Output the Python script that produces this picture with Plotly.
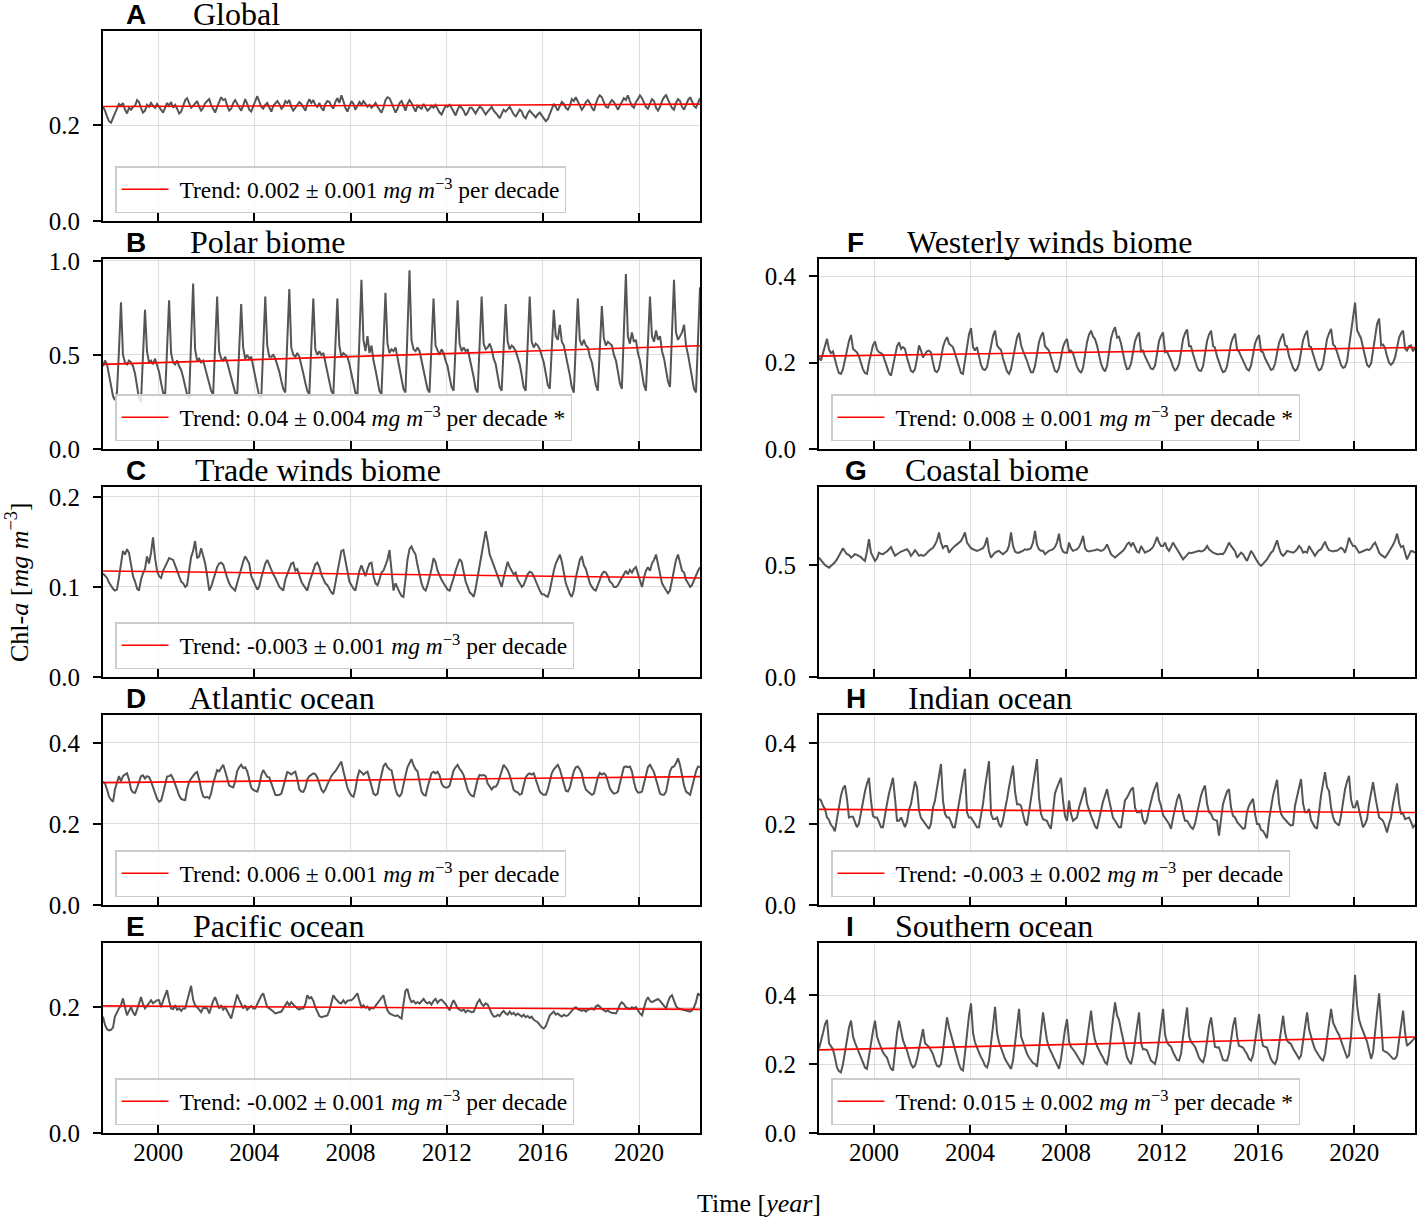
import pandas as pd
import plotly.graph_objects as go

# ---------------------------------------------------------------------------
# DATA: monthly Chl-a (mg m^-3), Sep 1997 ... Jul 2022, one row per year
# ---------------------------------------------------------------------------
FIRST_MONTH = "1997-09-01"
LAST_MONTH = "2022-07-01"
tick_years = [2000, 2004, 2008, 2012, 2016, 2020]

global_rows = [
    [0.238, 0.230, 0.218, 0.208],
    [0.205, 0.215, 0.228, 0.238, 0.244, 0.240, 0.246, 0.232, 0.224, 0.236, 0.232, 0.238],
    [0.240, 0.252, 0.248, 0.236, 0.226, 0.230, 0.242, 0.238, 0.246, 0.240, 0.236, 0.244],
    [0.238, 0.232, 0.226, 0.236, 0.246, 0.240, 0.248, 0.236, 0.242, 0.234, 0.224, 0.228],
    [0.240, 0.252, 0.256, 0.246, 0.236, 0.240, 0.244, 0.250, 0.238, 0.230, 0.236, 0.246],
    [0.250, 0.254, 0.242, 0.232, 0.226, 0.238, 0.250, 0.258, 0.252, 0.254, 0.240, 0.230],
    [0.234, 0.246, 0.252, 0.244, 0.238, 0.230, 0.240, 0.254, 0.244, 0.232, 0.228, 0.240],
    [0.250, 0.260, 0.248, 0.238, 0.234, 0.242, 0.246, 0.236, 0.228, 0.240, 0.246, 0.250],
    [0.244, 0.234, 0.238, 0.250, 0.246, 0.252, 0.238, 0.230, 0.236, 0.242, 0.248, 0.244],
    [0.238, 0.230, 0.244, 0.254, 0.246, 0.252, 0.242, 0.238, 0.246, 0.236, 0.230, 0.244],
    [0.250, 0.248, 0.240, 0.234, 0.248, 0.256, 0.246, 0.262, 0.250, 0.236, 0.228, 0.240],
    [0.250, 0.244, 0.232, 0.240, 0.248, 0.242, 0.250, 0.244, 0.238, 0.242, 0.236, 0.240],
    [0.246, 0.238, 0.232, 0.226, 0.236, 0.252, 0.258, 0.256, 0.246, 0.236, 0.226, 0.234],
    [0.246, 0.250, 0.240, 0.230, 0.244, 0.252, 0.246, 0.238, 0.228, 0.240, 0.236, 0.234],
    [0.244, 0.238, 0.230, 0.234, 0.240, 0.236, 0.242, 0.234, 0.226, 0.222, 0.232, 0.240],
    [0.238, 0.242, 0.236, 0.228, 0.220, 0.232, 0.240, 0.236, 0.230, 0.220, 0.226, 0.236],
    [0.236, 0.230, 0.224, 0.232, 0.238, 0.236, 0.230, 0.222, 0.228, 0.234, 0.238, 0.230],
    [0.226, 0.220, 0.214, 0.222, 0.232, 0.228, 0.234, 0.238, 0.230, 0.222, 0.218, 0.226],
    [0.232, 0.228, 0.218, 0.214, 0.224, 0.230, 0.226, 0.220, 0.216, 0.222, 0.226, 0.220],
    [0.214, 0.208, 0.212, 0.224, 0.236, 0.244, 0.238, 0.230, 0.240, 0.248, 0.244, 0.236],
    [0.232, 0.240, 0.254, 0.250, 0.258, 0.248, 0.240, 0.232, 0.238, 0.248, 0.252, 0.246],
    [0.236, 0.230, 0.244, 0.256, 0.262, 0.258, 0.248, 0.238, 0.236, 0.246, 0.252, 0.248],
    [0.240, 0.232, 0.240, 0.250, 0.256, 0.252, 0.262, 0.250, 0.240, 0.236, 0.248, 0.254],
    [0.262, 0.256, 0.246, 0.238, 0.234, 0.244, 0.254, 0.250, 0.236, 0.230, 0.238, 0.250],
    [0.258, 0.262, 0.252, 0.244, 0.236, 0.232, 0.246, 0.254, 0.250, 0.238, 0.232, 0.244],
    [0.252, 0.258, 0.248, 0.240, 0.236, 0.246, 0.256],
]

polar_rows = [
    [0.44, 0.47, 0.45, 0.40],
    [0.33, 0.28, 0.26, 0.30, 0.52, 0.78, 0.50, 0.46, 0.45, 0.47, 0.46, 0.44],
    [0.40, 0.33, 0.27, 0.25, 0.48, 0.74, 0.52, 0.46, 0.47, 0.45, 0.48, 0.44],
    [0.41, 0.35, 0.30, 0.28, 0.50, 0.79, 0.51, 0.46, 0.45, 0.47, 0.44, 0.42],
    [0.38, 0.33, 0.29, 0.27, 0.55, 0.88, 0.53, 0.47, 0.48, 0.46, 0.47, 0.43],
    [0.40, 0.35, 0.31, 0.29, 0.52, 0.81, 0.52, 0.48, 0.47, 0.49, 0.46, 0.42],
    [0.39, 0.34, 0.30, 0.28, 0.50, 0.77, 0.54, 0.48, 0.50, 0.48, 0.49, 0.44],
    [0.38, 0.32, 0.28, 0.27, 0.52, 0.81, 0.55, 0.49, 0.49, 0.50, 0.48, 0.45],
    [0.41, 0.36, 0.32, 0.30, 0.55, 0.85, 0.54, 0.50, 0.49, 0.51, 0.49, 0.45],
    [0.40, 0.35, 0.31, 0.29, 0.52, 0.80, 0.53, 0.50, 0.52, 0.50, 0.51, 0.46],
    [0.41, 0.36, 0.31, 0.29, 0.53, 0.80, 0.55, 0.49, 0.51, 0.50, 0.49, 0.45],
    [0.40, 0.35, 0.30, 0.28, 0.57, 0.90, 0.58, 0.52, 0.60, 0.51, 0.55, 0.47],
    [0.42, 0.36, 0.31, 0.29, 0.55, 0.83, 0.56, 0.51, 0.53, 0.52, 0.54, 0.48],
    [0.43, 0.37, 0.32, 0.30, 0.60, 0.95, 0.58, 0.53, 0.52, 0.54, 0.52, 0.47],
    [0.43, 0.37, 0.32, 0.30, 0.53, 0.80, 0.55, 0.52, 0.50, 0.53, 0.51, 0.47],
    [0.44, 0.38, 0.33, 0.31, 0.54, 0.79, 0.56, 0.52, 0.54, 0.52, 0.53, 0.48],
    [0.44, 0.38, 0.32, 0.30, 0.55, 0.81, 0.56, 0.53, 0.54, 0.56, 0.53, 0.48],
    [0.45, 0.39, 0.33, 0.31, 0.53, 0.77, 0.57, 0.53, 0.55, 0.54, 0.52, 0.48],
    [0.45, 0.39, 0.33, 0.31, 0.55, 0.81, 0.57, 0.54, 0.56, 0.55, 0.53, 0.49],
    [0.46, 0.40, 0.34, 0.32, 0.52, 0.74, 0.60, 0.58, 0.66, 0.57, 0.55, 0.50],
    [0.46, 0.39, 0.33, 0.30, 0.55, 0.80, 0.58, 0.55, 0.58, 0.55, 0.54, 0.49],
    [0.46, 0.40, 0.34, 0.31, 0.53, 0.76, 0.59, 0.55, 0.57, 0.56, 0.55, 0.50],
    [0.47, 0.41, 0.35, 0.32, 0.60, 0.93, 0.60, 0.56, 0.62, 0.57, 0.58, 0.51],
    [0.47, 0.40, 0.34, 0.31, 0.56, 0.81, 0.60, 0.57, 0.63, 0.58, 0.60, 0.52],
    [0.48, 0.42, 0.36, 0.33, 0.60, 0.90, 0.62, 0.58, 0.60, 0.62, 0.66, 0.55],
    [0.50, 0.44, 0.38, 0.32, 0.30, 0.55, 0.86],
]

trade_rows = [
    [0.115, 0.113, 0.110, 0.105],
    [0.101, 0.098, 0.096, 0.097, 0.110, 0.128, 0.140, 0.136, 0.142, 0.138, 0.126, 0.112],
    [0.106, 0.098, 0.096, 0.108, 0.115, 0.120, 0.134, 0.126, 0.138, 0.155, 0.132, 0.118],
    [0.112, 0.110, 0.118, 0.122, 0.127, 0.132, 0.131, 0.130, 0.124, 0.118, 0.112, 0.106],
    [0.104, 0.100, 0.102, 0.118, 0.133, 0.140, 0.151, 0.132, 0.134, 0.143, 0.134, 0.126],
    [0.112, 0.096, 0.100, 0.108, 0.114, 0.122, 0.126, 0.127, 0.125, 0.116, 0.110, 0.104],
    [0.100, 0.098, 0.096, 0.104, 0.112, 0.122, 0.128, 0.134, 0.130, 0.126, 0.112, 0.106],
    [0.102, 0.097, 0.100, 0.110, 0.118, 0.126, 0.130, 0.124, 0.120, 0.114, 0.110, 0.104],
    [0.100, 0.098, 0.096, 0.108, 0.114, 0.120, 0.126, 0.127, 0.118, 0.120, 0.112, 0.106],
    [0.102, 0.098, 0.096, 0.105, 0.112, 0.120, 0.125, 0.127, 0.122, 0.114, 0.108, 0.104],
    [0.102, 0.098, 0.094, 0.092, 0.104, 0.118, 0.130, 0.140, 0.141, 0.128, 0.116, 0.106],
    [0.102, 0.098, 0.096, 0.106, 0.118, 0.124, 0.118, 0.112, 0.120, 0.126, 0.127, 0.112],
    [0.104, 0.102, 0.108, 0.116, 0.118, 0.124, 0.130, 0.141, 0.120, 0.096, 0.104, 0.098],
    [0.094, 0.090, 0.089, 0.108, 0.130, 0.142, 0.145, 0.140, 0.136, 0.124, 0.112, 0.104],
    [0.098, 0.096, 0.102, 0.110, 0.120, 0.132, 0.128, 0.118, 0.112, 0.108, 0.104, 0.100],
    [0.097, 0.096, 0.102, 0.110, 0.118, 0.126, 0.131, 0.128, 0.116, 0.106, 0.100, 0.094],
    [0.092, 0.089, 0.098, 0.112, 0.124, 0.136, 0.150, 0.162, 0.150, 0.136, 0.130, 0.124],
    [0.118, 0.110, 0.104, 0.100, 0.110, 0.120, 0.128, 0.122, 0.118, 0.114, 0.116, 0.108],
    [0.104, 0.100, 0.102, 0.108, 0.114, 0.117, 0.116, 0.112, 0.106, 0.100, 0.096, 0.092],
    [0.092, 0.090, 0.089, 0.096, 0.108, 0.118, 0.126, 0.132, 0.136, 0.128, 0.116, 0.104],
    [0.098, 0.092, 0.089, 0.096, 0.110, 0.120, 0.130, 0.134, 0.124, 0.120, 0.110, 0.104],
    [0.100, 0.097, 0.096, 0.102, 0.108, 0.114, 0.117, 0.116, 0.112, 0.106, 0.104, 0.100],
    [0.100, 0.102, 0.106, 0.110, 0.115, 0.118, 0.114, 0.119, 0.116, 0.120, 0.122, 0.114],
    [0.106, 0.100, 0.110, 0.118, 0.122, 0.118, 0.126, 0.130, 0.136, 0.124, 0.112, 0.104],
    [0.100, 0.096, 0.093, 0.096, 0.108, 0.120, 0.130, 0.136, 0.128, 0.118, 0.116, 0.108],
    [0.104, 0.100, 0.102, 0.108, 0.114, 0.118, 0.122],
]

atlantic_rows = [
    [0.305, 0.300, 0.285, 0.268],
    [0.260, 0.255, 0.285, 0.305, 0.318, 0.305, 0.318, 0.322, 0.325, 0.310, 0.285, 0.278],
    [0.277, 0.290, 0.305, 0.318, 0.320, 0.312, 0.318, 0.316, 0.305, 0.290, 0.275, 0.262],
    [0.255, 0.258, 0.275, 0.300, 0.317, 0.318, 0.321, 0.312, 0.300, 0.285, 0.270, 0.262],
    [0.260, 0.259, 0.285, 0.304, 0.312, 0.320, 0.325, 0.328, 0.310, 0.285, 0.268, 0.265],
    [0.267, 0.263, 0.275, 0.300, 0.318, 0.333, 0.330, 0.340, 0.346, 0.330, 0.310, 0.295],
    [0.292, 0.290, 0.305, 0.330, 0.340, 0.346, 0.338, 0.340, 0.330, 0.310, 0.290, 0.284],
    [0.282, 0.280, 0.295, 0.320, 0.333, 0.325, 0.316, 0.315, 0.300, 0.285, 0.272, 0.271],
    [0.272, 0.275, 0.290, 0.310, 0.328, 0.326, 0.322, 0.326, 0.329, 0.310, 0.285, 0.280],
    [0.279, 0.290, 0.310, 0.318, 0.322, 0.325, 0.323, 0.315, 0.300, 0.285, 0.278, 0.285],
    [0.298, 0.310, 0.318, 0.325, 0.330, 0.338, 0.345, 0.354, 0.330, 0.310, 0.290, 0.278],
    [0.270, 0.267, 0.285, 0.315, 0.332, 0.328, 0.322, 0.326, 0.329, 0.312, 0.290, 0.275],
    [0.271, 0.275, 0.300, 0.325, 0.342, 0.350, 0.340, 0.335, 0.332, 0.310, 0.285, 0.272],
    [0.268, 0.275, 0.300, 0.320, 0.340, 0.352, 0.360, 0.345, 0.335, 0.330, 0.305, 0.280],
    [0.272, 0.270, 0.290, 0.310, 0.325, 0.329, 0.325, 0.329, 0.320, 0.300, 0.292, 0.290],
    [0.290, 0.295, 0.315, 0.332, 0.340, 0.346, 0.336, 0.330, 0.320, 0.300, 0.284, 0.275],
    [0.270, 0.268, 0.290, 0.310, 0.321, 0.320, 0.321, 0.318, 0.300, 0.292, 0.285, 0.292],
    [0.292, 0.300, 0.315, 0.335, 0.346, 0.340, 0.333, 0.320, 0.300, 0.284, 0.280, 0.278],
    [0.272, 0.275, 0.295, 0.315, 0.322, 0.325, 0.322, 0.325, 0.310, 0.295, 0.280, 0.275],
    [0.272, 0.272, 0.285, 0.305, 0.325, 0.335, 0.340, 0.346, 0.335, 0.318, 0.295, 0.282],
    [0.280, 0.290, 0.310, 0.330, 0.340, 0.342, 0.335, 0.325, 0.300, 0.285, 0.280, 0.275],
    [0.272, 0.275, 0.295, 0.315, 0.326, 0.322, 0.325, 0.320, 0.305, 0.288, 0.280, 0.275],
    [0.276, 0.280, 0.300, 0.325, 0.340, 0.342, 0.340, 0.342, 0.330, 0.305, 0.285, 0.278],
    [0.278, 0.280, 0.300, 0.325, 0.340, 0.346, 0.335, 0.328, 0.310, 0.290, 0.275, 0.272],
    [0.272, 0.280, 0.305, 0.330, 0.340, 0.342, 0.350, 0.362, 0.345, 0.320, 0.295, 0.280],
    [0.275, 0.272, 0.290, 0.315, 0.330, 0.342, 0.340],
]

pacific_rows = [
    [0.185, 0.172, 0.165, 0.163],
    [0.164, 0.168, 0.185, 0.193, 0.198, 0.203, 0.214, 0.200, 0.187, 0.194, 0.200, 0.192],
    [0.187, 0.196, 0.206, 0.216, 0.205, 0.198, 0.202, 0.206, 0.211, 0.206, 0.208, 0.211],
    [0.211, 0.200, 0.210, 0.220, 0.227, 0.210, 0.198, 0.197, 0.203, 0.196, 0.198, 0.194],
    [0.198, 0.198, 0.210, 0.225, 0.234, 0.212, 0.203, 0.200, 0.196, 0.192, 0.199, 0.198],
    [0.198, 0.190, 0.200, 0.210, 0.216, 0.206, 0.198, 0.203, 0.196, 0.200, 0.195, 0.188],
    [0.182, 0.195, 0.210, 0.220, 0.212, 0.204, 0.198, 0.203, 0.196, 0.199, 0.202, 0.198],
    [0.198, 0.205, 0.212, 0.218, 0.222, 0.210, 0.200, 0.198, 0.196, 0.193, 0.190, 0.191],
    [0.193, 0.193, 0.198, 0.204, 0.208, 0.203, 0.208, 0.204, 0.200, 0.198, 0.196, 0.198],
    [0.198, 0.205, 0.219, 0.214, 0.216, 0.210, 0.200, 0.192, 0.186, 0.184, 0.185, 0.186],
    [0.187, 0.195, 0.205, 0.219, 0.214, 0.211, 0.207, 0.206, 0.211, 0.206, 0.210, 0.211],
    [0.211, 0.214, 0.218, 0.222, 0.210, 0.200, 0.203, 0.199, 0.201, 0.196, 0.199, 0.198],
    [0.202, 0.206, 0.211, 0.215, 0.219, 0.205, 0.195, 0.190, 0.188, 0.187, 0.186, 0.187],
    [0.184, 0.182, 0.205, 0.226, 0.229, 0.215, 0.208, 0.210, 0.206, 0.208, 0.206, 0.210],
    [0.213, 0.208, 0.206, 0.208, 0.204, 0.210, 0.213, 0.207, 0.211, 0.212, 0.209, 0.205],
    [0.200, 0.195, 0.204, 0.211, 0.205, 0.198, 0.196, 0.194, 0.196, 0.192, 0.195, 0.194],
    [0.192, 0.193, 0.200, 0.208, 0.212, 0.205, 0.202, 0.206, 0.204, 0.196, 0.190, 0.185],
    [0.185, 0.188, 0.186, 0.191, 0.194, 0.190, 0.188, 0.193, 0.189, 0.191, 0.187, 0.190],
    [0.188, 0.185, 0.188, 0.184, 0.186, 0.183, 0.185, 0.180, 0.178, 0.176, 0.172, 0.168],
    [0.166, 0.170, 0.178, 0.187, 0.190, 0.193, 0.188, 0.190, 0.187, 0.185, 0.188, 0.186],
    [0.187, 0.190, 0.194, 0.198, 0.200, 0.197, 0.196, 0.194, 0.196, 0.193, 0.196, 0.197],
    [0.198, 0.196, 0.201, 0.203, 0.201, 0.197, 0.195, 0.193, 0.195, 0.192, 0.191, 0.190],
    [0.190, 0.196, 0.204, 0.208, 0.205, 0.200, 0.198, 0.197, 0.200, 0.198, 0.200, 0.195],
    [0.190, 0.187, 0.198, 0.210, 0.216, 0.210, 0.208, 0.210, 0.211, 0.213, 0.210, 0.206],
    [0.201, 0.198, 0.208, 0.216, 0.219, 0.210, 0.202, 0.198, 0.197, 0.196, 0.195, 0.195],
    [0.194, 0.193, 0.195, 0.200, 0.208, 0.222, 0.218],
]

westerly_rows = [
    [0.212, 0.205, 0.222, 0.240],
    [0.255, 0.230, 0.222, 0.226, 0.205, 0.190, 0.176, 0.174, 0.185, 0.205, 0.232, 0.250],
    [0.264, 0.232, 0.228, 0.224, 0.215, 0.197, 0.185, 0.176, 0.174, 0.200, 0.222, 0.240],
    [0.249, 0.230, 0.224, 0.222, 0.218, 0.205, 0.188, 0.176, 0.170, 0.195, 0.222, 0.238],
    [0.247, 0.232, 0.236, 0.232, 0.212, 0.195, 0.181, 0.178, 0.185, 0.210, 0.240, 0.228],
    [0.212, 0.220, 0.226, 0.228, 0.224, 0.200, 0.181, 0.178, 0.186, 0.210, 0.236, 0.250],
    [0.259, 0.244, 0.240, 0.236, 0.222, 0.205, 0.190, 0.176, 0.174, 0.205, 0.245, 0.265],
    [0.280, 0.236, 0.228, 0.236, 0.215, 0.195, 0.185, 0.183, 0.190, 0.215, 0.245, 0.262],
    [0.274, 0.240, 0.234, 0.230, 0.210, 0.195, 0.180, 0.174, 0.185, 0.210, 0.240, 0.258],
    [0.269, 0.240, 0.228, 0.218, 0.205, 0.190, 0.178, 0.178, 0.192, 0.220, 0.248, 0.262],
    [0.270, 0.238, 0.234, 0.228, 0.212, 0.195, 0.181, 0.178, 0.188, 0.212, 0.236, 0.248],
    [0.255, 0.226, 0.228, 0.222, 0.205, 0.190, 0.182, 0.176, 0.188, 0.220, 0.248, 0.265],
    [0.274, 0.260, 0.255, 0.240, 0.215, 0.198, 0.186, 0.180, 0.192, 0.225, 0.256, 0.272],
    [0.282, 0.258, 0.260, 0.245, 0.220, 0.200, 0.185, 0.186, 0.198, 0.225, 0.250, 0.262],
    [0.270, 0.226, 0.228, 0.215, 0.205, 0.195, 0.186, 0.185, 0.193, 0.220, 0.250, 0.262],
    [0.270, 0.224, 0.226, 0.215, 0.205, 0.190, 0.182, 0.186, 0.198, 0.225, 0.255, 0.268],
    [0.277, 0.238, 0.238, 0.220, 0.205, 0.190, 0.182, 0.181, 0.192, 0.220, 0.250, 0.265],
    [0.274, 0.238, 0.235, 0.215, 0.200, 0.188, 0.178, 0.180, 0.192, 0.220, 0.245, 0.258],
    [0.267, 0.230, 0.226, 0.215, 0.205, 0.192, 0.185, 0.182, 0.193, 0.218, 0.244, 0.256],
    [0.264, 0.226, 0.224, 0.210, 0.200, 0.190, 0.183, 0.185, 0.198, 0.222, 0.246, 0.258],
    [0.267, 0.240, 0.238, 0.215, 0.200, 0.188, 0.181, 0.185, 0.198, 0.226, 0.252, 0.265],
    [0.274, 0.238, 0.236, 0.220, 0.205, 0.190, 0.182, 0.185, 0.198, 0.226, 0.255, 0.268],
    [0.278, 0.242, 0.238, 0.225, 0.210, 0.195, 0.188, 0.190, 0.203, 0.235, 0.270, 0.300],
    [0.339, 0.275, 0.264, 0.256, 0.235, 0.210, 0.195, 0.190, 0.198, 0.228, 0.265, 0.290],
    [0.302, 0.240, 0.242, 0.234, 0.215, 0.200, 0.195, 0.200, 0.212, 0.238, 0.258, 0.268],
    [0.274, 0.232, 0.228, 0.238, 0.240, 0.226, 0.236],
]

coastal_rows = [
    [0.533, 0.520, 0.510, 0.500],
    [0.492, 0.488, 0.495, 0.503, 0.512, 0.525, 0.540, 0.560, 0.575, 0.560, 0.548, 0.545],
    [0.533, 0.540, 0.548, 0.545, 0.541, 0.535, 0.525, 0.518, 0.560, 0.615, 0.555, 0.535],
    [0.518, 0.530, 0.555, 0.550, 0.548, 0.555, 0.560, 0.570, 0.580, 0.560, 0.541, 0.548],
    [0.555, 0.560, 0.563, 0.566, 0.570, 0.560, 0.541, 0.552, 0.566, 0.555, 0.541, 0.545],
    [0.541, 0.545, 0.555, 0.563, 0.570, 0.577, 0.590, 0.610, 0.645, 0.600, 0.575, 0.585],
    [0.585, 0.555, 0.566, 0.577, 0.585, 0.592, 0.600, 0.607, 0.625, 0.645, 0.600, 0.585],
    [0.575, 0.570, 0.566, 0.563, 0.566, 0.570, 0.575, 0.590, 0.622, 0.560, 0.533, 0.545],
    [0.555, 0.560, 0.563, 0.555, 0.548, 0.556, 0.563, 0.585, 0.645, 0.585, 0.560, 0.555],
    [0.555, 0.560, 0.563, 0.570, 0.568, 0.570, 0.575, 0.600, 0.652, 0.590, 0.570, 0.563],
    [0.563, 0.548, 0.556, 0.563, 0.566, 0.570, 0.580, 0.600, 0.640, 0.580, 0.560, 0.555],
    [0.555, 0.600, 0.575, 0.563, 0.566, 0.570, 0.580, 0.600, 0.630, 0.575, 0.563, 0.560],
    [0.563, 0.563, 0.566, 0.570, 0.568, 0.563, 0.566, 0.575, 0.592, 0.570, 0.548, 0.540],
    [0.533, 0.541, 0.548, 0.555, 0.563, 0.575, 0.592, 0.600, 0.585, 0.600, 0.575, 0.560],
    [0.555, 0.585, 0.570, 0.555, 0.560, 0.563, 0.570, 0.580, 0.600, 0.625, 0.600, 0.585],
    [0.585, 0.600, 0.575, 0.563, 0.580, 0.600, 0.585, 0.570, 0.555, 0.540, 0.525, 0.535],
    [0.545, 0.555, 0.552, 0.555, 0.556, 0.560, 0.563, 0.560, 0.563, 0.570, 0.585, 0.570],
    [0.560, 0.555, 0.552, 0.548, 0.548, 0.550, 0.548, 0.560, 0.580, 0.600, 0.585, 0.570],
    [0.560, 0.533, 0.545, 0.555, 0.548, 0.535, 0.518, 0.540, 0.563, 0.550, 0.530, 0.518],
    [0.505, 0.496, 0.505, 0.515, 0.525, 0.540, 0.555, 0.563, 0.585, 0.610, 0.575, 0.550],
    [0.541, 0.550, 0.563, 0.560, 0.558, 0.555, 0.560, 0.570, 0.585, 0.575, 0.555, 0.560],
    [0.555, 0.585, 0.570, 0.555, 0.541, 0.555, 0.565, 0.570, 0.590, 0.604, 0.580, 0.566],
    [0.563, 0.560, 0.563, 0.563, 0.570, 0.577, 0.570, 0.555, 0.585, 0.622, 0.600, 0.585],
    [0.585, 0.570, 0.555, 0.558, 0.563, 0.566, 0.570, 0.566, 0.575, 0.590, 0.600, 0.580],
    [0.555, 0.545, 0.540, 0.533, 0.545, 0.560, 0.570, 0.590, 0.610, 0.640, 0.600, 0.580],
    [0.585, 0.555, 0.525, 0.545, 0.563, 0.560, 0.555],
]

indian_rows = [
    [0.262, 0.258, 0.245, 0.237],
    [0.216, 0.210, 0.198, 0.192, 0.182, 0.215, 0.249, 0.270, 0.288, 0.295, 0.262, 0.216],
    [0.218, 0.218, 0.205, 0.192, 0.200, 0.230, 0.249, 0.280, 0.300, 0.314, 0.258, 0.220],
    [0.216, 0.216, 0.205, 0.192, 0.192, 0.225, 0.249, 0.275, 0.295, 0.314, 0.262, 0.208],
    [0.208, 0.216, 0.205, 0.192, 0.205, 0.235, 0.249, 0.275, 0.305, 0.290, 0.233, 0.215],
    [0.208, 0.200, 0.192, 0.188, 0.200, 0.240, 0.257, 0.285, 0.315, 0.348, 0.257, 0.225],
    [0.216, 0.216, 0.205, 0.192, 0.192, 0.225, 0.249, 0.280, 0.310, 0.336, 0.229, 0.216],
    [0.216, 0.208, 0.200, 0.192, 0.192, 0.220, 0.249, 0.290, 0.325, 0.355, 0.225, 0.212],
    [0.212, 0.216, 0.200, 0.192, 0.210, 0.233, 0.260, 0.290, 0.320, 0.344, 0.280, 0.249],
    [0.249, 0.245, 0.225, 0.204, 0.196, 0.230, 0.257, 0.290, 0.330, 0.360, 0.265, 0.225],
    [0.212, 0.210, 0.208, 0.196, 0.188, 0.230, 0.275, 0.290, 0.305, 0.314, 0.258, 0.220],
    [0.208, 0.258, 0.225, 0.208, 0.212, 0.216, 0.240, 0.258, 0.275, 0.290, 0.250, 0.233],
    [0.220, 0.208, 0.195, 0.188, 0.210, 0.241, 0.255, 0.270, 0.286, 0.260, 0.233, 0.215],
    [0.208, 0.200, 0.192, 0.192, 0.220, 0.258, 0.265, 0.275, 0.285, 0.290, 0.240, 0.229],
    [0.229, 0.233, 0.210, 0.200, 0.210, 0.235, 0.258, 0.275, 0.290, 0.303, 0.260, 0.245],
    [0.222, 0.216, 0.208, 0.200, 0.188, 0.215, 0.241, 0.260, 0.274, 0.255, 0.225, 0.208],
    [0.208, 0.200, 0.192, 0.188, 0.200, 0.225, 0.249, 0.270, 0.285, 0.295, 0.250, 0.229],
    [0.225, 0.212, 0.210, 0.208, 0.171, 0.215, 0.249, 0.265, 0.280, 0.286, 0.240, 0.220],
    [0.216, 0.205, 0.200, 0.192, 0.188, 0.190, 0.229, 0.245, 0.255, 0.262, 0.225, 0.200],
    [0.200, 0.185, 0.183, 0.175, 0.165, 0.210, 0.245, 0.270, 0.290, 0.309, 0.250, 0.225],
    [0.216, 0.210, 0.205, 0.200, 0.196, 0.198, 0.245, 0.270, 0.295, 0.311, 0.250, 0.229],
    [0.229, 0.237, 0.210, 0.200, 0.192, 0.188, 0.230, 0.270, 0.300, 0.328, 0.290, 0.282],
    [0.240, 0.216, 0.205, 0.200, 0.196, 0.220, 0.258, 0.285, 0.305, 0.319, 0.260, 0.241],
    [0.241, 0.258, 0.235, 0.212, 0.192, 0.200, 0.212, 0.250, 0.280, 0.303, 0.270, 0.240],
    [0.216, 0.212, 0.208, 0.195, 0.179, 0.200, 0.216, 0.250, 0.280, 0.300, 0.250, 0.225],
    [0.225, 0.212, 0.214, 0.216, 0.205, 0.192, 0.198],
]

southern_rows = [
    [0.245, 0.265, 0.290, 0.315],
    [0.328, 0.260, 0.250, 0.243, 0.220, 0.190, 0.180, 0.176, 0.200, 0.239, 0.275, 0.305],
    [0.326, 0.280, 0.263, 0.245, 0.234, 0.219, 0.205, 0.190, 0.186, 0.225, 0.258, 0.295],
    [0.326, 0.280, 0.263, 0.245, 0.234, 0.225, 0.219, 0.200, 0.186, 0.181, 0.240, 0.290],
    [0.326, 0.290, 0.270, 0.253, 0.240, 0.219, 0.200, 0.190, 0.195, 0.215, 0.245, 0.280],
    [0.301, 0.260, 0.255, 0.250, 0.240, 0.229, 0.210, 0.195, 0.192, 0.200, 0.240, 0.290],
    [0.335, 0.306, 0.285, 0.268, 0.240, 0.219, 0.200, 0.185, 0.181, 0.230, 0.290, 0.340],
    [0.376, 0.290, 0.263, 0.245, 0.234, 0.220, 0.210, 0.195, 0.190, 0.210, 0.255, 0.310],
    [0.366, 0.290, 0.263, 0.245, 0.229, 0.215, 0.205, 0.195, 0.186, 0.210, 0.260, 0.310],
    [0.360, 0.280, 0.263, 0.245, 0.230, 0.219, 0.210, 0.203, 0.200, 0.192, 0.240, 0.300],
    [0.350, 0.306, 0.270, 0.248, 0.235, 0.222, 0.210, 0.195, 0.186, 0.215, 0.260, 0.300],
    [0.330, 0.265, 0.250, 0.243, 0.235, 0.225, 0.214, 0.205, 0.200, 0.225, 0.270, 0.315],
    [0.355, 0.300, 0.270, 0.253, 0.240, 0.228, 0.219, 0.205, 0.200, 0.230, 0.285, 0.340],
    [0.379, 0.340, 0.329, 0.300, 0.270, 0.240, 0.219, 0.208, 0.200, 0.225, 0.270, 0.315],
    [0.350, 0.260, 0.243, 0.243, 0.240, 0.225, 0.210, 0.205, 0.200, 0.225, 0.275, 0.320],
    [0.360, 0.285, 0.263, 0.255, 0.250, 0.235, 0.222, 0.212, 0.210, 0.230, 0.280, 0.330],
    [0.364, 0.280, 0.265, 0.258, 0.250, 0.235, 0.219, 0.210, 0.205, 0.225, 0.270, 0.310],
    [0.335, 0.280, 0.250, 0.248, 0.248, 0.230, 0.212, 0.210, 0.210, 0.230, 0.270, 0.310],
    [0.335, 0.280, 0.253, 0.250, 0.248, 0.238, 0.229, 0.215, 0.210, 0.225, 0.265, 0.305],
    [0.345, 0.280, 0.253, 0.250, 0.248, 0.230, 0.214, 0.205, 0.200, 0.215, 0.260, 0.305],
    [0.340, 0.290, 0.268, 0.262, 0.258, 0.245, 0.234, 0.222, 0.215, 0.225, 0.265, 0.310],
    [0.350, 0.300, 0.277, 0.260, 0.243, 0.232, 0.224, 0.215, 0.210, 0.230, 0.275, 0.320],
    [0.360, 0.320, 0.306, 0.295, 0.285, 0.270, 0.250, 0.235, 0.219, 0.225, 0.280, 0.370],
    [0.459, 0.370, 0.330, 0.310, 0.295, 0.280, 0.265, 0.240, 0.215, 0.235, 0.285, 0.350],
    [0.405, 0.300, 0.240, 0.236, 0.234, 0.228, 0.220, 0.215, 0.215, 0.225, 0.270, 0.320],
    [0.355, 0.290, 0.253, 0.258, 0.263, 0.270, 0.277],
]

# linear trend (value at first month, value at last month)
trend_global = [0.2385, 0.2435]
trend_polar = [0.450, 0.549]
trend_trade = [0.1177, 0.1100]
trend_atlantic = [0.302, 0.317]
trend_pacific = [0.2020, 0.1965]
trend_westerly = [0.2150, 0.2350]
trend_indian = [0.2360, 0.2285]
trend_southern = [0.2410, 0.2785]

UNIT = "<i>mg m</i><sup>\u22123</sup>"
GAP = "\u00a0"
label_global = f"{GAP}Trend: 0.002 \u00b1 0.001 {UNIT} per decade"
label_polar = f"{GAP}Trend: 0.04 \u00b1 0.004 {UNIT} per decade *"
label_trade = f"{GAP}Trend: -0.003 \u00b1 0.001 {UNIT} per decade"
label_atlantic = f"{GAP}Trend: 0.006 \u00b1 0.001 {UNIT} per decade"
label_pacific = f"{GAP}Trend: -0.002 \u00b1 0.001 {UNIT} per decade"
label_westerly = f"{GAP}Trend: 0.008 \u00b1 0.001 {UNIT} per decade *"
label_indian = f"{GAP}Trend: -0.003 \u00b1 0.002 {UNIT} per decade"
label_southern = f"{GAP}Trend: 0.015 \u00b1 0.002 {UNIT} per decade *"

# ---------------------------------------------------------------------------
W, H = 1417, 1220
SERIF = "Liberation Serif, Times New Roman, serif"
SANS = "Liberation Sans, Arial, sans-serif"
COLS = [(103, 700), (819, 1415)]
ROWS = [(31, 221), (259, 449), (487, 677), (715, 905), (943, 1133)]

dates = pd.date_range(FIRST_MONTH, LAST_MONTH, freq="MS") + pd.Timedelta(days=14)
x_ticks = [f"{y}-01-01" for y in tick_years]
x_ticktext = [str(y) for y in tick_years]


def flat(rows):
    out = []
    for r in rows:
        out.extend(r)
    return out


panels = [
    dict(letter="A", title="Global", col=0, row=0, rows=global_rows, trend=trend_global,
         label=label_global, yr=[0, 0.396], yt=[0.0, 0.2], lx=136, tx=191),
    dict(letter="B", title="Polar biome", col=0, row=1, rows=polar_rows, trend=trend_polar,
         label=label_polar, yr=[0, 1.01], yt=[0.0, 0.5, 1.0], lx=136, tx=188),
    dict(letter="C", title="Trade winds biome", col=0, row=2, rows=trade_rows, trend=trend_trade,
         label=label_trade, yr=[0, 0.211], yt=[0.0, 0.1, 0.2], lx=136, tx=193),
    dict(letter="D", title="Atlantic ocean", col=0, row=3, rows=atlantic_rows, trend=trend_atlantic,
         label=label_atlantic, yr=[0, 0.469], yt=[0.0, 0.2, 0.4], lx=136, tx=187),
    dict(letter="E", title="Pacific ocean", col=0, row=4, rows=pacific_rows, trend=trend_pacific,
         label=label_pacific, yr=[0, 0.302], yt=[0.0, 0.2], lx=135, tx=191),
    dict(letter="F", title="Westerly winds biome", col=1, row=1, rows=westerly_rows, trend=trend_westerly,
         label=label_westerly, yr=[0, 0.44], yt=[0.0, 0.2, 0.4], lx=855, tx=905),
    dict(letter="G", title="Coastal biome", col=1, row=2, rows=coastal_rows, trend=None,
         label=None, yr=[0, 0.848], yt=[0.0, 0.5], lx=856, tx=903),
    dict(letter="H", title="Indian ocean", col=1, row=3, rows=indian_rows, trend=trend_indian,
         label=label_indian, yr=[0, 0.469], yt=[0.0, 0.2, 0.4], lx=856, tx=906),
    dict(letter="I", title="Southern ocean", col=1, row=4, rows=southern_rows, trend=trend_southern,
         label=label_southern, yr=[0, 0.551], yt=[0.0, 0.2, 0.4], lx=850, tx=893),
]

fig = go.Figure()
layout = dict(
    width=W, height=H, autosize=False,
    margin=dict(l=0, r=0, t=0, b=0, pad=0, autoexpand=False),
    paper_bgcolor="white", plot_bgcolor="white",
    showlegend=True,
    font=dict(family=SERIF, size=24, color="black"),
    annotations=[],
)

legend_count = 0
for i, p in enumerate(panels):
    n = i + 1
    xa = "x" if n == 1 else f"x{n}"
    ya = "y" if n == 1 else f"y{n}"
    xkey = "xaxis" if n == 1 else f"xaxis{n}"
    ykey = "yaxis" if n == 1 else f"yaxis{n}"
    c0, c1 = COLS[p["col"]]
    r0, r1 = ROWS[p["row"]]
    y = flat(p["rows"])
    xd = dates[:len(y)]

    fig.add_trace(go.Scatter(x=xd, y=y, mode="lines", xaxis=xa, yaxis=ya,
                             line=dict(color="#555555", width=2),
                             showlegend=False, hoverinfo="skip"))
    if p["trend"] is not None:
        legend_count += 1
        lg = "legend" if legend_count == 1 else f"legend{legend_count}"
        fig.add_trace(go.Scatter(x=[xd[0], xd[-1]], y=p["trend"], mode="lines",
                                 xaxis=xa, yaxis=ya, name=p["label"], legend=lg,
                                 line=dict(color="#ff0000", width=1.6),
                                 showlegend=True, hoverinfo="skip"))
        layout[lg] = dict(
            x=(c0 + 12) / W, y=1 - (r1 - 8) / H, xanchor="left", yanchor="bottom",
            bgcolor="rgba(255,255,255,0.85)", bordercolor="#cccccc", borderwidth=1.5,
            font=dict(family=SERIF, size=23.5, color="black"),
            itemwidth=47, tracegroupgap=0,
        )

    layout[xkey] = dict(
        domain=[c0 / W, c1 / W], anchor=ya, type="date", automargin=False,
        range=[xd[0], dates[-1]],
        tickvals=x_ticks, ticktext=x_ticktext,
        showticklabels=(p["row"] == 4),
        ticks="inside", ticklen=8, tickwidth=1.5, tickcolor="black",
        showline=True, linecolor="black", linewidth=2, mirror=True,
        showgrid=True, gridcolor="#dddddd", gridwidth=1, zeroline=False,
        tickfont=dict(family=SERIF, size=25, color="black"),
        ticklabelstandoff=-4,
    )
    layout[ykey] = dict(
        domain=[1 - r1 / H, 1 - r0 / H], anchor=xa, automargin=False,
        range=p["yr"], tickvals=p["yt"], tickformat=".1f",
        ticks="outside", ticklen=8, tickwidth=1.5, tickcolor="black",
        showline=True, linecolor="black", linewidth=2, mirror=True,
        showgrid=True, gridcolor="#dddddd", gridwidth=1, zeroline=False,
        tickfont=dict(family=SERIF, size=25, color="black"),
        ticklabelstandoff=8,
    )
    layout["annotations"].append(dict(
        text=f"<b>{p['letter']}</b>", x=p["lx"] / W, y=1 - (r0 + 1) / H,
        xref="paper", yref="paper", xanchor="center", yanchor="bottom",
        showarrow=False, font=dict(family=SANS, size=28, color="black")))
    layout["annotations"].append(dict(
        text=p["title"], x=p["tx"] / W, y=1 - (r0 + 3) / H,
        xref="paper", yref="paper", xanchor="left", yanchor="bottom",
        showarrow=False, font=dict(family=SERIF, size=32, color="black")))

layout["annotations"].append(dict(
    text="Chl-<i>a</i> [<i>mg m</i><sup>\u22123</sup>]", x=17 / W, y=1 - 582 / H,
    xref="paper", yref="paper", xanchor="center", yanchor="middle", textangle=-90,
    showarrow=False, font=dict(family=SERIF, size=26, color="black")))
layout["annotations"].append(dict(
    text="Time [<i>year</i>]", x=759 / W, y=1 - 1203 / H,
    xref="paper", yref="paper", xanchor="center", yanchor="middle",
    showarrow=False, font=dict(family=SERIF, size=26, color="black")))

fig.update_layout(**layout)
fig.write_html(
    "out.html",
    config={"displayModeBar": False},
    post_script="document.body.style.margin='0';document.body.style.overflow='hidden';",
)
